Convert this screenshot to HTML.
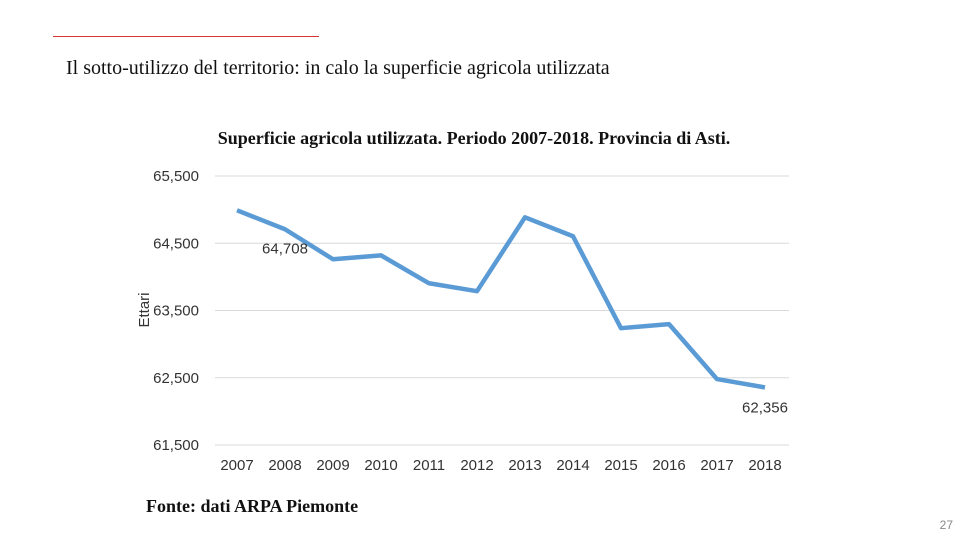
<!DOCTYPE html>
<html><head><meta charset="utf-8"><style>
html,body{margin:0;padding:0;background:#fff;}
body{width:960px;height:540px;position:relative;overflow:hidden;}
.t{position:absolute;white-space:nowrap;}
</style></head><body>
<div style="position:absolute;left:53px;top:36px;width:266px;height:1px;background:#d33;"></div>
<div class="t" style="left:66px;top:57px;font:20px 'Liberation Serif',serif;color:#111;">Il sotto-utilizzo del territorio: in calo la superficie agricola utilizzata</div>
<svg id="c" width="960" height="540" style="position:absolute;left:0;top:0;" xmlns="http://www.w3.org/2000/svg">
<text x="474" y="144" text-anchor="middle" font-family="Liberation Serif" font-weight="bold" font-size="18" fill="#111">Superficie agricola utilizzata. Periodo 2007-2018. Provincia di Asti.</text>
<text transform="translate(149,310) rotate(-90)" text-anchor="middle" font-family="Liberation Sans" font-size="15" fill="#333">Ettari</text>
<text x="146" y="512" font-family="Liberation Serif" font-weight="bold" font-size="18" fill="#111">Fonte: dati ARPA Piemonte</text>
<text x="953" y="529" text-anchor="end" font-family="Liberation Sans" font-size="12" fill="#888">27</text>
</svg>
<script>
const years=['2007','2008','2009','2010','2011','2012','2013','2014','2015','2016','2017','2018'];
const values=[64990,64708,64262,64320,63905,63787,64886,64604,63237,63297,62480,62356];
const yTicks=[61500,62500,63500,64500,65500];
const labeled=[1,11];
const svg=document.getElementById('c');
const NS='http://www.w3.org/2000/svg';
const x0=237,dx=48,yMin=61500,yMax=65500,yBot=445,yTop=176;
const X=i=>x0+i*dx;
const Y=v=>yBot-(v-yMin)/(yMax-yMin)*(yBot-yTop);
function mk(t,a){const e=document.createElementNS(NS,t);for(const k in a)e.setAttribute(k,a[k]);svg.appendChild(e);return e;}
yTicks.forEach(v=>{
 const g=mk('line',{x1:215,x2:789,y1:Y(v),y2:Y(v),stroke:'#d9d9d9','stroke-width':1});
 
 
 const t=mk('text',{x:199,y:Y(v)+5,'text-anchor':'end','font-family':'Liberation Sans','font-size':15,fill:'#333'});
 t.textContent=v.toLocaleString('en-US');
 
 
});
years.forEach((y,i)=>{
 const t=mk('text',{x:X(i),y:470,'text-anchor':'middle','font-family':'Liberation Sans','font-size':15,fill:'#333'});
 t.textContent=y;
 
 
});
const p=mk('polyline',{points:values.map((v,i)=>X(i)+','+Y(v)).join(' '),fill:'none',stroke:'#5b9bd5','stroke-width':4.5,'stroke-linejoin':'round'});


labeled.forEach(i=>{
 const t=mk('text',{x:X(i),y:Y(values[i])+(i===1?24:25),'text-anchor':'middle','font-family':'Liberation Sans','font-size':15,fill:'#333'});
 t.textContent=values[i].toLocaleString('en-US');
 
 
});
</script>
</body></html>
